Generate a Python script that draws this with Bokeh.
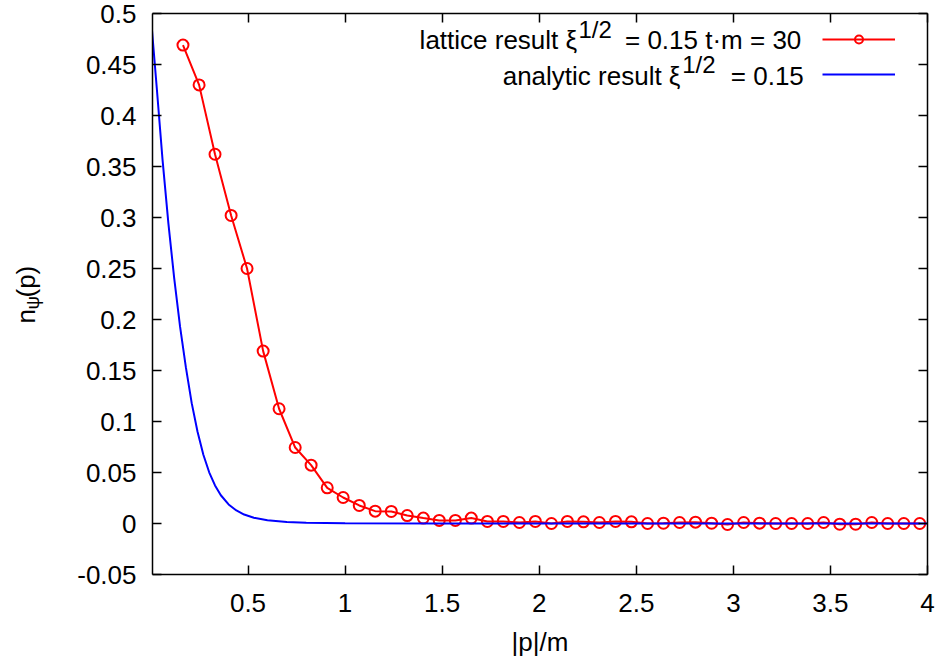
import math
from bokeh.plotting import figure
from bokeh.layouts import row
from bokeh.models import Range1d, LinearAxis, FixedTicker, Label, Legend, LegendItem
from bokeh.embed import file_html
from bokeh.resources import INLINE
from bokeh.core.properties import value

# ---------------- data ----------------
lattice_p = [0.165, 0.248, 0.330, 0.413, 0.495, 0.578, 0.660, 0.743, 0.825, 0.908,
             0.990, 1.073, 1.155, 1.238, 1.320, 1.403, 1.485, 1.568, 1.650, 1.733,
             1.815, 1.898, 1.980, 2.063, 2.145, 2.228, 2.310, 2.393, 2.475, 2.558,
             2.640, 2.723, 2.805, 2.888, 2.970, 3.053, 3.135, 3.218, 3.300, 3.383,
             3.465, 3.548, 3.630, 3.713, 3.795, 3.878, 3.960]
lattice_n = [0.469, 0.430, 0.362, 0.302, 0.250, 0.169, 0.1125, 0.0745, 0.0572, 0.035,
             0.0255, 0.0177, 0.0121, 0.0118, 0.0078, 0.0053, 0.003, 0.003, 0.0053, 0.002,
             0.002, 0.001, 0.002, 0.0, 0.002, 0.0016, 0.001, 0.002, 0.0016, 0.0,
             0.0003, 0.001, 0.0013, 0.0003, -0.001, 0.001, 0.0003, 0.0, 0.0, 0.0,
             0.001, -0.0007, -0.0007, 0.001, 0.0, 0.0, 0.0]

analytic_p = [0.0, 0.03, 0.06, 0.09, 0.12, 0.15, 0.18, 0.21, 0.24, 0.27, 0.30, 0.33,
              0.36, 0.40, 0.44, 0.48, 0.53, 0.60, 0.70, 0.80, 1.0, 1.5, 2.0, 3.0, 4.0]
analytic_n = [0.496, 0.427, 0.356, 0.294, 0.240, 0.193, 0.153, 0.118, 0.090, 0.0674,
              0.0502, 0.0373, 0.0277, 0.0187, 0.0128, 0.0088, 0.0056, 0.00315, 0.0015,
              0.00074, 0.0002, 0.0, 0.0, 0.0, 0.0]

x_ticks = [0.5, 1, 1.5, 2, 2.5, 3, 3.5, 4]
x_tick_labels = ["0.5", "1", "1.5", "2", "2.5", "3", "3.5", "4"]
y_ticks = [-0.05, 0, 0.05, 0.1, 0.15, 0.2, 0.25, 0.3, 0.35, 0.4, 0.45, 0.5]
y_tick_labels = ["-0.05", "0", "0.05", "0.1", "0.15", "0.2", "0.25", "0.3", "0.35",
                 "0.4", "0.45", "0.5"]

FONT = "Liberation Sans"
TICK_FS = "26px"
TXT_FS = "26px"
SUP_FS = "24px"
SUB_FS = "19px"

H = 662
LW = 60  # width of the strip holding the y-axis title

p = figure(width=878, height=H, output_backend="svg", toolbar_location=None,
           x_range=Range1d(0.008, 4.0), y_range=Range1d(-0.05, 0.5),
           min_border_left=92, min_border_right=11, min_border_top=13,
           min_border_bottom=88)
p.outline_line_color = None
p.grid.visible = False
p.background_fill_color = "white"
p.border_fill_color = "white"


def style_axis(ax, ticks, labels, show_labels, standoff):
    ax.ticker = FixedTicker(ticks=ticks)
    ax.major_label_overrides = {t: l for t, l in zip(ticks, labels)}
    ax.axis_line_color = "black"
    ax.axis_line_width = 1.5
    ax.major_tick_line_color = "black"
    ax.major_tick_line_width = 1.5
    ax.major_tick_in = 9
    ax.major_tick_out = 0
    ax.minor_tick_line_color = None
    ax.major_label_text_font = FONT
    if show_labels:
        ax.major_label_text_color = "black"
        ax.major_label_text_font_size = TICK_FS
        ax.major_label_standoff = standoff
    else:
        ax.major_label_text_color = None
        ax.major_label_text_font_size = "1px"
        ax.major_label_standoff = 0


style_axis(p.xaxis[0], x_ticks, x_tick_labels, True, 19)
style_axis(p.yaxis[0], y_ticks, y_tick_labels, True, 16)
p.xaxis[0].axis_label = "|p|/m"
p.xaxis[0].axis_label_text_font = FONT
p.xaxis[0].axis_label_text_font_size = TXT_FS
p.xaxis[0].axis_label_text_font_style = "normal"
p.xaxis[0].axis_label_text_color = "black"
p.xaxis[0].axis_label_standoff = 12
top_ax = LinearAxis()
right_ax = LinearAxis()
style_axis(top_ax, x_ticks, x_tick_labels, False, 0)
style_axis(right_ax, y_ticks, y_tick_labels, False, 0)
p.add_layout(top_ax, "above")
p.add_layout(right_ax, "right")

# ---------------- series ----------------
r_line = p.line(lattice_p, lattice_n, line_color="#ff0000", line_width=2)
r_pts = p.scatter(lattice_p, lattice_n, marker="circle", size=11, fill_color=None,
                  line_color="#ff0000", line_width=2)
b_line = p.line(analytic_p, analytic_n, line_color="#0000ff", line_width=2)

# legend samples (text drawn separately, gnuplot style: text left of sample)
legend = Legend(items=[LegendItem(label=value(" "), renderers=[r_line, r_pts]),
                       LegendItem(label=value(" "), renderers=[b_line])],
                location=(670, 490), glyph_width=73, glyph_height=20,
                label_height=20, label_width=0, label_standoff=0,
                label_text_font_size="1px", spacing=15, padding=0, margin=0,
                border_line_color=None, background_fill_alpha=0)
p.add_layout(legend)


def lab(fig, text, x, y, fs, align="left", angle=0.0, baseline="alphabetic"):
    fig.add_layout(Label(x=x, y=y, x_units="screen", y_units="screen", text=text,
                         text_font=FONT, text_font_size=fs, text_color="black",
                         text_align=align, text_baseline=baseline, angle=angle))


# legend texts
lab(p, "lattice result \u03be", 424.7, 534.3, TXT_FS, align="right")
lab(p, "1/2", 426, 545.3, SUP_FS)
lab(p, "= 0.15 t\u00b7m = 30", 472.5, 534.3, TXT_FS)
lab(p, "analytic result \u03be", 528, 499, TXT_FS, align="right")
lab(p, "1/2", 529.7, 510, SUP_FS)
lab(p, "= 0.15", 651.3, 499, TXT_FS, align="right")

# ---------------- y-axis title strip (frame aligned with main plot: 13..574) ----
yl = figure(width=LW, height=H, output_backend="svg", toolbar_location=None,
            x_range=Range1d(0, 1), y_range=Range1d(0, 1),
            x_axis_type=None, y_axis_type=None,
            min_border_left=0, min_border_right=0, min_border_top=0,
            min_border_bottom=0)
yl.outline_line_color = None
yl.grid.visible = False
yl.background_fill_color = "white"
yl.border_fill_color = "white"
FB = 574  # page y of the (aligned) frame bottom
lab(yl, "n", 25, FB - 323, TXT_FS, angle=math.pi / 2)
lab(yl, "\u03c8", 32, FB - 309, SUB_FS, angle=math.pi / 2)
lab(yl, "(p)", 25, FB - 297, TXT_FS, angle=math.pi / 2)

layout = row(yl, p, spacing=0)
open("out.html", "w").write(file_html(layout, INLINE))
